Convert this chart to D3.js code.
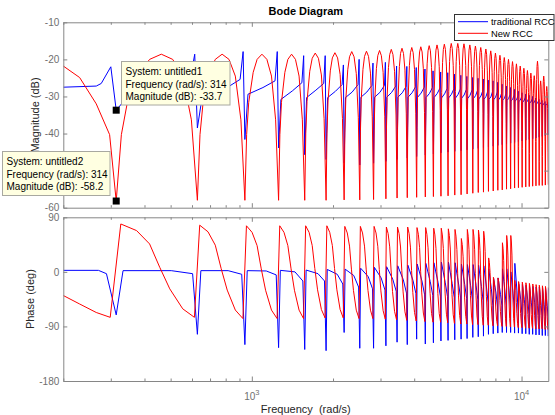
<!DOCTYPE html>
<html><head><meta charset="utf-8">
<script src="https://cdn.jsdelivr.net/npm/d3@7/dist/d3.min.js"></script>
<style>
html,body{margin:0;padding:0;background:#fff;}
text{font-family:"Liberation Sans",Arial,Helvetica,sans-serif;}
</style></head><body>
<svg id="chart" width="555" height="415"></svg>
<script>
// ---------------- data ----------------
const freqDomain = [200, 12566.4];
const magDomain = [-60, -10];
const phaseDomain = [-180, 90];
const magTicks = [-60, -50, -40, -30, -20, -10];
// the -50 label is hidden behind the second data tip in the reference
const magTickLabels = ["-60", "", "-40", "-30", "-20", "-10"];
const phaseTicks = [-180, -90, 0, 90];
const phaseTickLabels = ["-180", "-90", "0", "90"];
const freqTicks = [200,300,400,500,600,700,800,900,1000,2000,3000,4000,5000,6000,7000,8000,9000,10000];
const freqMajorTicks = [1000, 10000];
const freqTickExponents = ["3", "4"];
const seriesNames = ["traditional RCC", "New RCC"];

// resonance (harmonic) frequencies, rad/s
const harmonics = [314.2,628.3,942.5,1256.6,1570.8,1885.0,2199.1,2513.3,2827.4,3141.6,
  3455.8,3769.9,4084.1,4398.2,4712.4,5026.5,5340.7,5654.9,5969.0,6283.2,
  6597.3,6911.5,7225.7,7539.8,7854.0,8168.1,8482.3,8796.5,9110.6,9424.8,
  9738.9,10053.1,10367.3,10681.4,10995.6,11309.7,11623.9,11938.1,12252.2,12566.4];

// New RCC magnitude (dB)
const newMagStart = [[200,-21.8],[230,-24.9],[265,-32.0],[297,-40.3]];
const newMagNotch = [-58.2,-58.0,-58.0,-58.0,-58.0,-58.0,-57.9,-57.9,-57.8,-57.6,
  -57.4,-57.3,-57.2,-57.1,-57.0,-56.9,-56.8,-56.6,-56.5,-56.3,
  -56.1,-55.9,-55.8,-55.6,-55.5,-55.3,-55.2,-55.0,-54.9,-54.7,
  -54.6,-54.5,-54.4,-54.3,-54.2,-54.1,-54.0,-54.0,-53.9,-53.8];
const newMagPeak = [-18.6,-18.6,-18.6,-18.6,-18.3,-18.2,-17.9,-17.8,-17.6,-17.3,
  -17.0,-16.8,-16.6,-16.3,-16.1,-15.9,-15.7,-15.7,-15.8,-16.1,
  -16.4,-16.8,-17.2,-17.7,-18.3,-18.9,-19.5,-20.0,-20.6,-21.2,
  -21.8,-22.4,-23.0,-23.7,-24.4,-20.5,-25.8,-24.5,-27.3];
// shape of one hump read from the first one: [fraction of harmonic spacing, dB relative to hump peak]
const newMagHump = [[0.045,-21.7],[0.10,-13.0],[0.22,-4.9],[0.33,-1.4],[0.47,0],[0.62,-1.4],[0.765,-5.9],[0.90,-17.7]];

// traditional RCC magnitude (dB)
const tradMagStart = [[200,-27.5],[265,-27.2]];
const tradMagHigh = [-26.5,-25.5,-25.4,-25.8,-26.3,-26.5,-26.8,-26.8,-27.0,-27.0,
  -27.2,-27.3,-27.4,-27.5,-27.6,-27.7,-27.8,-27.9,-28.0,-28.1,
  -28.2,-28.3,-28.4,-28.5,-28.6,-28.8,-29.0,-29.2,-29.4,-29.6,
  -29.8,-30.0,-30.2,-30.4,-30.6,-30.8,-31.0,-31.2,-31.4,-31.6];
const tradMagPeak = [-22.0,-18.6,-17.9,-17.9,-19.0,-19.0,-21.5,-20.0,-21.0,-20.8,
  -21.8,-21.9,-22.2,-22.6,-23.1,-23.4,-23.6,-24.0,-24.3,-24.6,
  -24.9,-25.1,-25.3,-25.6,-25.8,-26.2,-26.7,-27.2,-27.6,-28.1,
  -28.6,-29.0,-29.4,-29.7,-30.0,-30.4,-30.8,-31.1,-31.4,-31.7];
const tradMagNotch = [-33.7,-38.5,-41.6,-43.9,-45.7,-47.0,-48.0,-48.5,-48.0,-47.5,
  -47.0,-46.6,-46.2,-45.8,-45.5,-45.2,-45.0,-44.8,-44.6,-44.4,
  -44.2,-44.0,-43.8,-43.6,-43.4,-43.2,-43.0,-42.8,-42.6,-42.4,
  -42.2,-42.0,-41.8,-41.6,-41.4,-41.2,-41.0,-40.8,-40.6,-40.4];
const tradMagLow = [-30.8,-30.5,-29.4,-30.8,-30.3,-30.3,-30.3,-30.2,-30.2,-30.2,
  -30.2,-30.2,-30.3,-30.3,-30.3,-30.4,-30.4,-30.5,-30.5,-30.6,
  -30.6,-30.7,-30.8,-30.8,-30.9,-31.0,-31.0,-31.1,-31.2,-31.3,
  -31.4,-31.5,-31.6,-31.7,-31.8,-31.9,-32.0,-32.1,-32.2,-32.3];
const tradMagMid = [-28.3,-28.2,-27.6,-28.5,-28.3,-28.6,-28.8,-28.8,-28.9,-28.9,
  -29.0,-29.0,-29.1,-29.2,-29.2,-29.3,-29.4,-29.5,-29.6,-29.7,
  -29.8,-29.9,-30.0,-30.1,-30.2,-30.4,-30.5,-30.6,-30.8,-30.9,
  -31.0,-31.2,-31.3,-31.5,-31.6,-31.8,-31.9,-32.1,-32.2,-32.3];

// New RCC phase (deg)
const newPhStart = [[200,-39],[230,-53],[265,-67]];
const newPhBottom = [-75,-75,-77,-77,-77,-76,-76,-77,-77,-78,
  -79,-80,-81,-82,-83,-83,-84,-85,-86,-86,
  -87,-87,-88,-88,-89,-89,-90,-90,-91,-91,
  -92,-92,-93,-93,-93,-94,-94,-94,-95,-95];
const newPhTop = [79,77,76,76,76,76,75,75,75,74,
  74,74,73,73,72,72,71,70,55,70,
  70,69,67,23,-9,-10,48,60,60,-14,
  -16,-17,-18,-19,-20,-21,-22,-23,-24,-25];
// fall of the phase between two resonances: [fraction of spacing, fraction of the fall]
const newPhFall = [[0.19,0.071],[0.33,0.214],[0.45,0.464],[0.58,0.695],[0.765,0.909]];

// traditional RCC phase (deg)
const tradPhStart = [[200,2.5],[270,2.5]];
const tradPhPre = [-3,-3,-4,-5,-15,-15,-20,-25,-28,-30,
  -32,-35,-36,-38,-39,-40,-41,-42,-43,-44,
  -45,-46,-47,-50,-55,-58,-55,-55,-58,-60,
  -65,-67,-68,-69,-70,-71,-72,-73,-74,-75];
const tradPhDip = [-71,-103,-120,-125,-128,-130,-100,-126,-126,-122,
  -116,-120,-111,-119,-117,-114,-113,-112,-111,-110,
  -108,-107,-106,-103,-102,-101,-100,-100,-100,-101,
  -101,-102,-102,-103,-103,-104,-104,-105,-105,-106];
const tradPhTop = [2,2,2,2.5,3,4,4.5,6,7.5,8.5,
  10,11,13,14,15,16,16,15,13,12,
  12,11,10,5,-10,-10,5,5,0,14,
  -20,-21,-22,-23,-24,-25,-25,-26,-26,-27];
const tradPhMid = [2,2,1.5,0,-3,-4,-6,-8,-10,-12,
  -13,-14,-15,-16,-17,-18,-19,-20,-21,-22,
  -23,-24,-25,-28,-35,-37,-30,-30,-35,-30,
  -45,-46,-48,-50,-51,-52,-53,-54,-55,-56];

// data tips
const tipFreq = harmonics[0];
const tipTrad = tradMagNotch[0];
const tipNew = newMagNotch[0];

// ---------------- build series vertices ----------------
const spacing = harmonics[1] - harmonics[0];

const newMag = newMagStart.map(d => d.slice());
harmonics.forEach((h, i) => {
  newMag.push([h, newMagNotch[i]]);
  if (i < newMagPeak.length) newMagHump.forEach(([t, r]) => newMag.push([h + t * spacing, newMagPeak[i] + r]));
});

const tradMag = tradMagStart.map(d => d.slice());
harmonics.forEach((h, i) => {
  tradMag.push([h - 0.12 * spacing, tradMagHigh[i]], [h - 0.045 * spacing, tradMagPeak[i]],
    [h, tradMagNotch[i]], [h + 0.08 * spacing, tradMagLow[i]], [h + 0.5 * spacing, tradMagMid[i]]);
});

const newPh = newPhStart.map(d => d.slice());
harmonics.forEach((h, i) => {
  newPh.push([h - 0.05 * spacing, newPhBottom[i]], [h + 0.04 * spacing, newPhTop[i]]);
  if (i + 1 < harmonics.length) {
    const fall = newPhTop[i] - newPhBottom[i + 1];
    newPhFall.forEach(([t, f]) => newPh.push([h + t * spacing, newPhTop[i] - f * fall]));
  }
});

const tradPh = tradPhStart.map(d => d.slice());
harmonics.forEach((h, i) => {
  tradPh.push([h - 0.08 * spacing, tradPhPre[i]], [h, tradPhDip[i]],
    [h + 0.06 * spacing, tradPhTop[i]], [h + 0.6 * spacing, tradPhMid[i]]);
});

// ---------------- layout ----------------
const svg = d3.select('#chart');
const L = 63.3, R = 548.3;
const magY0 = 22.3, magY1 = 207.7, phY0 = 217.3, phY1 = 381;
const axisColor = '#868686', tickTextColor = '#6f6f6f', labelColor = '#262626';
const blue = '#0000ff', red = '#ff0000';

const x = d3.scaleLog().domain(freqDomain).range([L, R]);
const yMag = d3.scaleLinear().domain(magDomain).range([magY1, magY0]);
const yPh = d3.scaleLinear().domain(phaseDomain).range([phY1, phY0]);

svg.append('rect').attr('width', 555).attr('height', 415).attr('fill', '#fff');

const defs = svg.append('defs');
defs.append('clipPath').attr('id', 'clipMag').append('rect')
  .attr('x', L).attr('y', magY0).attr('width', R - L).attr('height', magY1 - magY0);
defs.append('clipPath').attr('id', 'clipPh').append('rect')
  .attr('x', L).attr('y', phY0).attr('width', R - L).attr('height', phY1 - phY0);

function styleAxis(g) {
  g.selectAll('path.domain').attr('stroke', axisColor).attr('stroke-width', 1);
  g.selectAll('.tick line').attr('stroke', axisColor).attr('stroke-width', 1);
  g.selectAll('.tick text').attr('fill', tickTextColor).attr('font-size', 10)
    .attr('font-family', '"Liberation Sans",Arial,sans-serif');
}

function panel(y, ticks, labels, y0, y1, clipId, series) {
  const line = d3.line().x(d => x(d[0])).y(d => y(d[1]));
  const gd = svg.append('g').attr('clip-path', `url(#${clipId})`);
  series.forEach(s => gd.append('path').attr('d', line(s.data)).attr('fill', 'none')
    .attr('stroke', s.color).attr('stroke-width', 1).attr('stroke-linejoin', 'round'));

  const gl = svg.append('g').attr('transform', `translate(${L},0)`)
    .call(d3.axisLeft(y).tickValues(ticks).tickSizeInner(-4).tickSizeOuter(0).tickPadding(4)
      .tickFormat((d, i) => labels[i]));
  styleAxis(gl);
  const gr = svg.append('g').attr('transform', `translate(${R},0)`)
    .call(d3.axisRight(y).tickValues(ticks).tickSizeInner(-4).tickSizeOuter(0).tickFormat(''));
  styleAxis(gr);
  const gb = svg.append('g').attr('transform', `translate(0,${y1})`)
    .call(d3.axisBottom(x).tickValues(freqTicks).tickSizeInner(-2.5).tickSizeOuter(0).tickFormat(''));
  const gt = svg.append('g').attr('transform', `translate(0,${y0})`)
    .call(d3.axisTop(x).tickValues(freqTicks).tickSizeInner(-2.5).tickSizeOuter(0).tickFormat(''));
  [gb, gt].forEach((g, k) => {
    styleAxis(g);
    g.selectAll('.tick line').attr('y2', d => (freqMajorTicks.includes(d) ? 4.5 : 2.5) * (k === 0 ? -1 : 1));
  });
}

panel(yMag, magTicks, magTickLabels, magY0, magY1, 'clipMag', [
  { data: tradMag, color: blue }, { data: newMag, color: red }]);
panel(yPh, phaseTicks, phaseTickLabels, phY0, phY1, 'clipPh', [
  { data: tradPh, color: blue }, { data: newPh, color: red }]);

// x tick labels 10^3, 10^4
freqMajorTicks.forEach((f, i) => {
  const t = svg.append('text').attr('x', x(f)).attr('y', 400).attr('text-anchor', 'middle')
    .attr('fill', tickTextColor).attr('font-size', 10);
  t.append('tspan').text('10');
  t.append('tspan').attr('dy', -5).attr('font-size', 7.5).text(freqTickExponents[i]);
});

// titles
svg.append('text').attr('x', (L + R) / 2).attr('y', 15).attr('text-anchor', 'middle')
  .attr('font-size', 11).attr('font-weight', 'bold').attr('fill', '#000').text('Bode Diagram');
svg.append('text').attr('x', (L + R) / 2).attr('y', 413).attr('text-anchor', 'middle')
  .attr('font-size', 11).attr('fill', labelColor).attr('xml:space', 'preserve').text('Frequency  (rad/s)');
svg.append('text').attr('transform', `translate(39,${(magY0 + magY1) / 2}) rotate(-90)`)
  .attr('text-anchor', 'middle').attr('font-size', 11).attr('fill', labelColor).text('Magnitude (dB)');
svg.append('text').attr('transform', `translate(33.5,${(phY0 + phY1) / 2}) rotate(-90)`)
  .attr('text-anchor', 'middle').attr('font-size', 11).attr('fill', labelColor).text('Phase (deg)');

// legend
const lg = svg.append('g');
lg.append('rect').attr('x', 454.5).attr('y', 14.5).attr('width', 99.5).attr('height', 26)
  .attr('fill', '#fff').attr('stroke', '#333').attr('stroke-width', 1);
[blue, red].forEach((c, i) => {
  const yy = 21.7 + i * 11.6;
  lg.append('line').attr('x1', 458).attr('x2', 488).attr('y1', yy).attr('y2', yy)
    .attr('stroke', c).attr('stroke-width', 1);
  lg.append('text').attr('x', 491).attr('y', yy + 3.3).attr('font-size', 9.4).attr('fill', '#000')
    .text(seriesNames[i]);
});

// data tips (plain hyphen minus like the reference)
const fmtMag = v => (v < 0 ? '-' : '') + Math.abs(v).toFixed(1);
const fmtFreq = v => Math.round(v).toString();
function dataTip(bx, by, bw, bh, sys, mag) {
  const g = svg.append('g');
  g.append('rect').attr('x', bx).attr('y', by).attr('width', bw).attr('height', bh)
    .attr('fill', '#ffffe1').attr('stroke', '#a8a8a0').attr('stroke-width', 1);
  const lines = [`System: ${sys}`, `Frequency (rad/s): ${fmtFreq(tipFreq)}`, `Magnitude (dB): ${fmtMag(mag)}`];
  lines.forEach((s, i) => g.append('text').attr('x', bx + 4).attr('y', by + 13.3 + i * 12.8)
    .attr('font-size', 10).attr('fill', '#000').text(s));
}
function marker(v) {
  svg.append('rect').attr('x', x(tipFreq) - 3.5).attr('y', yMag(v) - 3.5)
    .attr('width', 7).attr('height', 7).attr('fill', '#000');
}
dataTip(121.5, 61.5, 108.5, 43.5, 'untitled1', tipTrad);
dataTip(2.5, 151.5, 107.5, 44, 'untitled2', tipNew);
marker(tipTrad);
marker(tipNew);
</script>
</body></html>
